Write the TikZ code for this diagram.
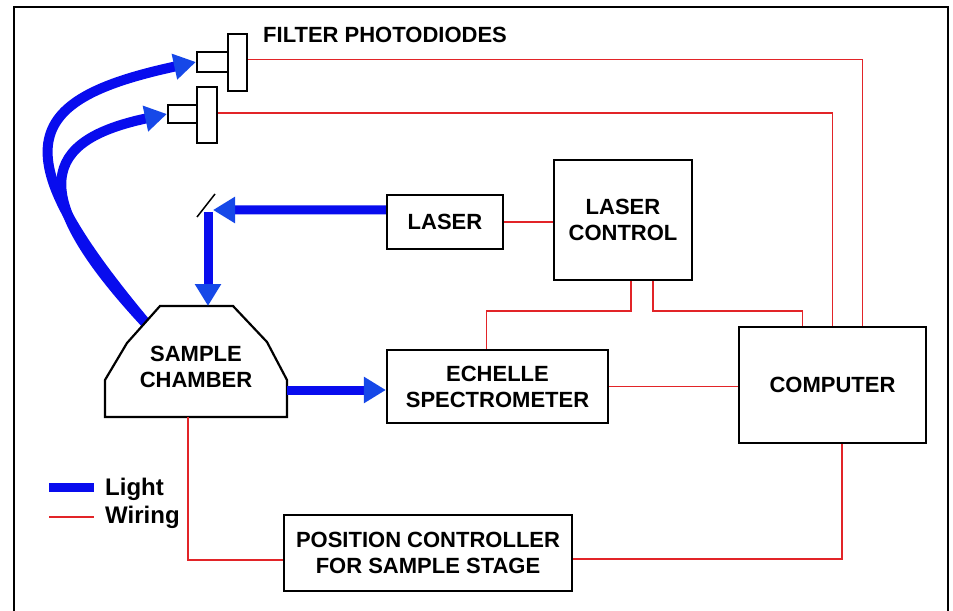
\documentclass[tikz,border=0pt]{standalone}
\usepackage{fontspec}
\setmainfont{Liberation Sans}
\usetikzlibrary{arrows.meta}
\definecolor{wirered}{RGB}{226,36,40}
\definecolor{beamblue}{RGB}{8,12,238}
\definecolor{tipblue}{RGB}{22,72,232}

\begin{document}
\begin{tikzpicture}[x=1bp, y=-1bp,
	every node/.style={font=\bfseries\fontsize{22bp}{26bp}\selectfont, align=center, inner sep=0pt},
	box/.style={draw, line width=2.2bp, fill=white},
	wire/.style={wirered, line width=1.8bp},
	beam/.style={beamblue, line width=9bp},
	>={Triangle[length=22bp, width=25bp, color=tipblue]}]
	\useasboundingbox (0,0) rectangle (953,611);
	\draw[line width=2.5bp] (14,611) -- (14,7) -- (948,7) -- (948,611);
	% light paths first, the chamber is drawn over their ends
	\coordinate (chamberF) at (150,328);
	\coordinate (chamberN) at (208,306);
	\coordinate (chamberE) at (287,390);
	\coordinate (chamberS) at (188,417);
	\coordinate (mirror) at (208,210);
	\node[box, minimum width=31bp, minimum height=20bp] (pdAlens) at (212.5,62) {};
	\node[box, minimum width=19bp, minimum height=57bp] (pdAplate) at (237.5,62.5) {};
	\node[box, minimum width=29bp, minimum height=18bp] (pdBlens) at (182.5,114) {};
	\node[box, minimum width=20bp, minimum height=56bp] (pdBplate) at (207,115) {};
	\node[anchor=west] (pdlabel) at (263,35) {FILTER PHOTODIODES};
	\draw[beam, line width=10bp, ->] (chamberF) .. controls (0,150) and (20,100) .. (pdAlens.west);
	\draw[beam, line width=10bp, ->] (chamberF) .. controls (20,190) and (45,140) .. (pdBlens.west);
	\draw[box] (160,306) -- (233,306) -- (267,342) -- (287,380) -- (287,417) -- (105,417) -- (105,380) -- (127,343) -- cycle;
	\node (chamber) at (196,367) {SAMPLE\\CHAMBER};
	\node[box, minimum width=116bp, minimum height=54bp] (laser) at (445,222) {LASER};
	\node[box, minimum width=138bp, minimum height=120bp] (lasctl) at (623,220) {LASER\\CONTROL};
	\node[box, minimum width=221bp, minimum height=73bp] (echelle) at (497.5,386.5) {ECHELLE\\SPECTROMETER};
	\node[box, minimum width=187bp, minimum height=116bp] (computer) at (832.5,385) {COMPUTER};
	\node[box, minimum width=288bp, minimum height=76bp] (posctl) at (428,553) {POSITION CONTROLLER\\FOR SAMPLE STAGE};
	% laser beam and mirror
	\draw[line width=1.5bp] (197,217) -- (215,194);
	\draw[beam, ->] ([yshift=12bp]laser.west) -- ([xshift=5bp]mirror);
	\draw[beam, ->] ([yshift=-2bp]mirror) -- (chamberN);
	\draw[beam, ->] (chamberE) -- (echelle.west |- chamberE);
	% wiring
	\draw[wire] (laser.east) -- (laser.east -| lasctl.west);
	\draw[wire] ([xshift=8bp]lasctl.south) -- ++(0,30) -| ([xshift=-11bp]echelle.north);
	\draw[wire] ([xshift=30bp]lasctl.south) -- ++(0,30) -| ([xshift=-30bp]computer.north);
	\draw[wire] (echelle.east) -- (echelle.east -| computer.west);
	\draw[wire] ([yshift=3bp]pdAplate.east) -| ([xshift=30bp]computer.north);
	\draw[wire] ([yshift=2bp]pdBplate.east) -| (computer.north);
	\draw[wire] ([xshift=9.5bp]computer.south) |- ([yshift=-6bp]posctl.east);
	\draw[wire] (chamberS) |- ([yshift=-7bp]posctl.west);
	% legend
	\draw[beam] (49,487) -- (94,487);
	\draw[wire] (49,517) -- (94,517);
	\node[anchor=base west, font=\bfseries\fontsize{24bp}{28bp}\selectfont] (lightkey) at (105,495) {Light};
	\node[anchor=base west, font=\bfseries\fontsize{24bp}{28bp}\selectfont] (wirekey) at (105,523) {Wiring};
\end{tikzpicture}
\end{document}
